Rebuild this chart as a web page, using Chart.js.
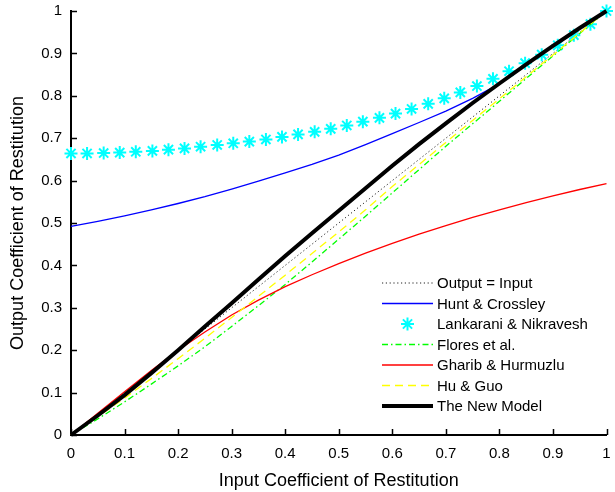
<!DOCTYPE html>
<html>
<head>
<meta charset="utf-8">
<script src="https://cdn.jsdelivr.net/npm/chart.js@4"></script>
<style>
  html, body { margin: 0; padding: 0; background: #fff; }
  #wrap { width: 615px; height: 492px; }
</style>
</head>
<body>
<div id="wrap"><canvas id="corChart" width="615" height="492"></canvas></div>
<script>
// input coefficient of restitution for the continuous models
const inputCor = [0, 0.05, 0.1, 0.15, 0.2, 0.25, 0.3, 0.35, 0.4, 0.45, 0.5,
  0.55, 0.6, 0.65, 0.7, 0.75, 0.8, 0.85, 0.9, 0.95, 1];

const identityX = [0, 1];
const identityY = [0, 1];

const huntCrossley = [0.492, 0.504, 0.517, 0.531, 0.546, 0.562, 0.580, 0.599, 0.618, 0.638, 0.660,
  0.685, 0.711, 0.737, 0.764, 0.794, 0.828, 0.872, 0.917, 0.959, 1.0];

// Lankarani & Nikravesh is drawn as markers only
const lankaraniX = [0, 0.030, 0.061, 0.091, 0.121, 0.152, 0.182, 0.212, 0.242, 0.273, 0.303,
  0.333, 0.364, 0.394, 0.424, 0.455, 0.485, 0.515, 0.545, 0.576, 0.606, 0.636, 0.667,
  0.697, 0.727, 0.758, 0.788, 0.818, 0.848, 0.879, 0.909, 0.939, 0.970, 1.0];
const lankaraniY = [0.664, 0.664, 0.665, 0.666, 0.668, 0.670, 0.673, 0.676, 0.680, 0.684, 0.688,
  0.692, 0.697, 0.703, 0.709, 0.715, 0.722, 0.730, 0.739, 0.748, 0.758, 0.769, 0.781,
  0.794, 0.808, 0.823, 0.840, 0.858, 0.877, 0.897, 0.919, 0.943, 0.969, 1.0];

const floresEtAl = [0, 0.038, 0.078, 0.120, 0.163, 0.208, 0.256, 0.305, 0.355, 0.408, 0.462,
  0.516, 0.571, 0.626, 0.681, 0.734, 0.787, 0.841, 0.894, 0.947, 1.0];

const gharibHurmuzlu = [0, 0.051, 0.102, 0.152, 0.200, 0.243, 0.283, 0.318, 0.350, 0.378, 0.404,
  0.429, 0.452, 0.474, 0.494, 0.513, 0.531, 0.548, 0.564, 0.579, 0.593];

const huGuo = [0, 0.043, 0.087, 0.133, 0.180, 0.228, 0.277, 0.327, 0.377, 0.428, 0.479,
  0.531, 0.586, 0.638, 0.690, 0.742, 0.793, 0.845, 0.896, 0.948, 1.0];

const newModel = [0, 0.046, 0.094, 0.146, 0.200, 0.256, 0.311, 0.367, 0.422, 0.476, 0.529,
  0.582, 0.635, 0.686, 0.735, 0.783, 0.829, 0.874, 0.918, 0.960, 1.0];

const tickLabels = ["0", "0.1", "0.2", "0.3", "0.4", "0.5", "0.6", "0.7", "0.8", "0.9", "1"];

const FONT = "'Liberation Sans', Arial, Helvetica, sans-serif";

function toPoints(xs, ys) {
  return xs.map((x, i) => ({ x: x, y: ys[i] }));
}

function tickLabel(value) {
  return tickLabels[Math.round(value * 10)];
}

// ticks pointing into the plot, matlab style
const innerTicks = {
  id: "innerTicks",
  afterDraw(chart) {
    const { ctx, chartArea } = chart;
    const xs = chart.scales.x, ys = chart.scales.y;
    ctx.save();
    ctx.strokeStyle = "#000";
    ctx.lineWidth = 1.5;
    ctx.beginPath();
    xs.ticks.forEach(t => {
      const px = Math.round(xs.getPixelForValue(t.value)) + 0.5;
      ctx.moveTo(px, chartArea.bottom);
      ctx.lineTo(px, chartArea.bottom - 6);
    });
    ys.ticks.forEach(t => {
      const py = Math.round(ys.getPixelForValue(t.value)) + 0.5;
      ctx.moveTo(chartArea.left, py);
      ctx.lineTo(chartArea.left + 6, py);
    });
    ctx.stroke();
    ctx.restore();
  }
};

// legend drawn inside the plot, lower right, no frame
const innerLegend = {
  id: "innerLegend",
  afterDraw(chart) {
    const ctx = chart.ctx;
    const x0 = 382, x1 = 433, textX = 437;
    let y = 283;
    ctx.save();
    ctx.font = "15px " + FONT;
    ctx.textBaseline = "middle";
    ctx.fillStyle = "#000";
    chart.data.datasets.forEach(ds => {
      if (ds.showLine === false) {
        const r = ds.pointRadius;
        ctx.strokeStyle = ds.pointBorderColor;
        ctx.lineWidth = ds.pointBorderWidth;
        const cx = (x0 + x1) / 2;
        ctx.beginPath();
        ctx.moveTo(cx - r, y); ctx.lineTo(cx + r, y);
        ctx.moveTo(cx, y - r); ctx.lineTo(cx, y + r);
        const d = r * Math.SQRT1_2;
        ctx.moveTo(cx - d, y - d); ctx.lineTo(cx + d, y + d);
        ctx.moveTo(cx - d, y + d); ctx.lineTo(cx + d, y - d);
        ctx.stroke();
      } else {
        ctx.strokeStyle = ds.borderColor;
        ctx.lineWidth = ds.borderWidth;
        ctx.setLineDash(ds.borderDash || []);
        ctx.beginPath();
        ctx.moveTo(x0, y);
        ctx.lineTo(x1, y);
        ctx.stroke();
        ctx.setLineDash([]);
      }
      ctx.fillText(ds.label, textX, y + 1);
      y += 20.5;
    });
    ctx.restore();
  }
};

const lineDefaults = { showLine: true, pointRadius: 0, fill: false, tension: 0, clip: false };

new Chart(document.getElementById("corChart"), {
  type: "line",
  data: {
    datasets: [
      Object.assign({}, lineDefaults, {
        label: "Output = Input",
        data: toPoints(identityX, identityY),
        borderColor: "#222",
        borderWidth: 1,
        borderDash: [1.2, 2.6],
        order: 7
      }),
      Object.assign({}, lineDefaults, {
        label: "Hunt & Crossley",
        data: toPoints(inputCor, huntCrossley),
        borderColor: "#0000ff",
        borderWidth: 1.3,
        order: 6
      }),
      {
        label: "Lankarani & Nikravesh",
        data: toPoints(lankaraniX, lankaraniY),
        showLine: false,
        pointStyle: "star",
        pointRadius: 6.5,
        pointBorderColor: "#00ffff",
        pointBackgroundColor: "#00ffff",
        pointBorderWidth: 2,
        clip: false,
        order: 5
      },
      Object.assign({}, lineDefaults, {
        label: "Flores et al.",
        data: toPoints(inputCor, floresEtAl),
        borderColor: "#00ff00",
        borderWidth: 1.3,
        borderDash: [6, 3, 1.5, 3],
        order: 4
      }),
      Object.assign({}, lineDefaults, {
        label: "Gharib & Hurmuzlu",
        data: toPoints(inputCor, gharibHurmuzlu),
        borderColor: "#ff0000",
        borderWidth: 1.3,
        order: 3
      }),
      Object.assign({}, lineDefaults, {
        label: "Hu & Guo",
        data: toPoints(inputCor, huGuo),
        borderColor: "#ffff00",
        borderWidth: 1.3,
        borderDash: [8, 5],
        order: 2
      }),
      Object.assign({}, lineDefaults, {
        label: "The New Model",
        data: toPoints(inputCor, newModel),
        borderColor: "#000000",
        borderWidth: 4,
        order: 1
      })
    ]
  },
  options: {
    responsive: false,
    animation: false,
    layout: { padding: { top: 11, right: 7, left: 0, bottom: 0 } },
    plugins: {
      legend: { display: false },
      tooltip: { enabled: false }
    },
    scales: {
      x: {
        type: "linear",
        min: 0,
        max: 1,
        afterFit(scale) {
          scale.height = 57;
          scale.paddingLeft = 0;
          scale.paddingRight = 0;
        },
        grid: { display: false, drawTicks: false },
        border: { display: true, color: "#000", width: 2 },
        ticks: {
          stepSize: 0.1,
          padding: 10,
          color: "#000",
          font: { family: FONT, size: 15 },
          maxRotation: 0,
          callback: v => tickLabel(v)
        },
        title: {
          display: true,
          text: "Input Coefficient of Restitution",
          color: "#000",
          font: { family: FONT, size: 18 },
          padding: { top: 5, bottom: 0 }
        }
      },
      y: {
        type: "linear",
        min: 0,
        max: 1,
        afterFit(scale) {
          scale.width = 71;
          scale.paddingTop = 0;
          scale.paddingBottom = 0;
        },
        grid: { display: false, drawTicks: false },
        border: { display: true, color: "#000", width: 2 },
        ticks: {
          stepSize: 0.1,
          padding: 9,
          color: "#000",
          font: { family: FONT, size: 15 },
          callback: v => tickLabel(v)
        },
        title: {
          display: true,
          text: "Output Coefficient of Restitution",
          color: "#000",
          font: { family: FONT, size: 18 },
          padding: { top: 7, bottom: 0 }
        }
      }
    }
  },
  plugins: [innerTicks, innerLegend]
});
</script>
</body>
</html>
